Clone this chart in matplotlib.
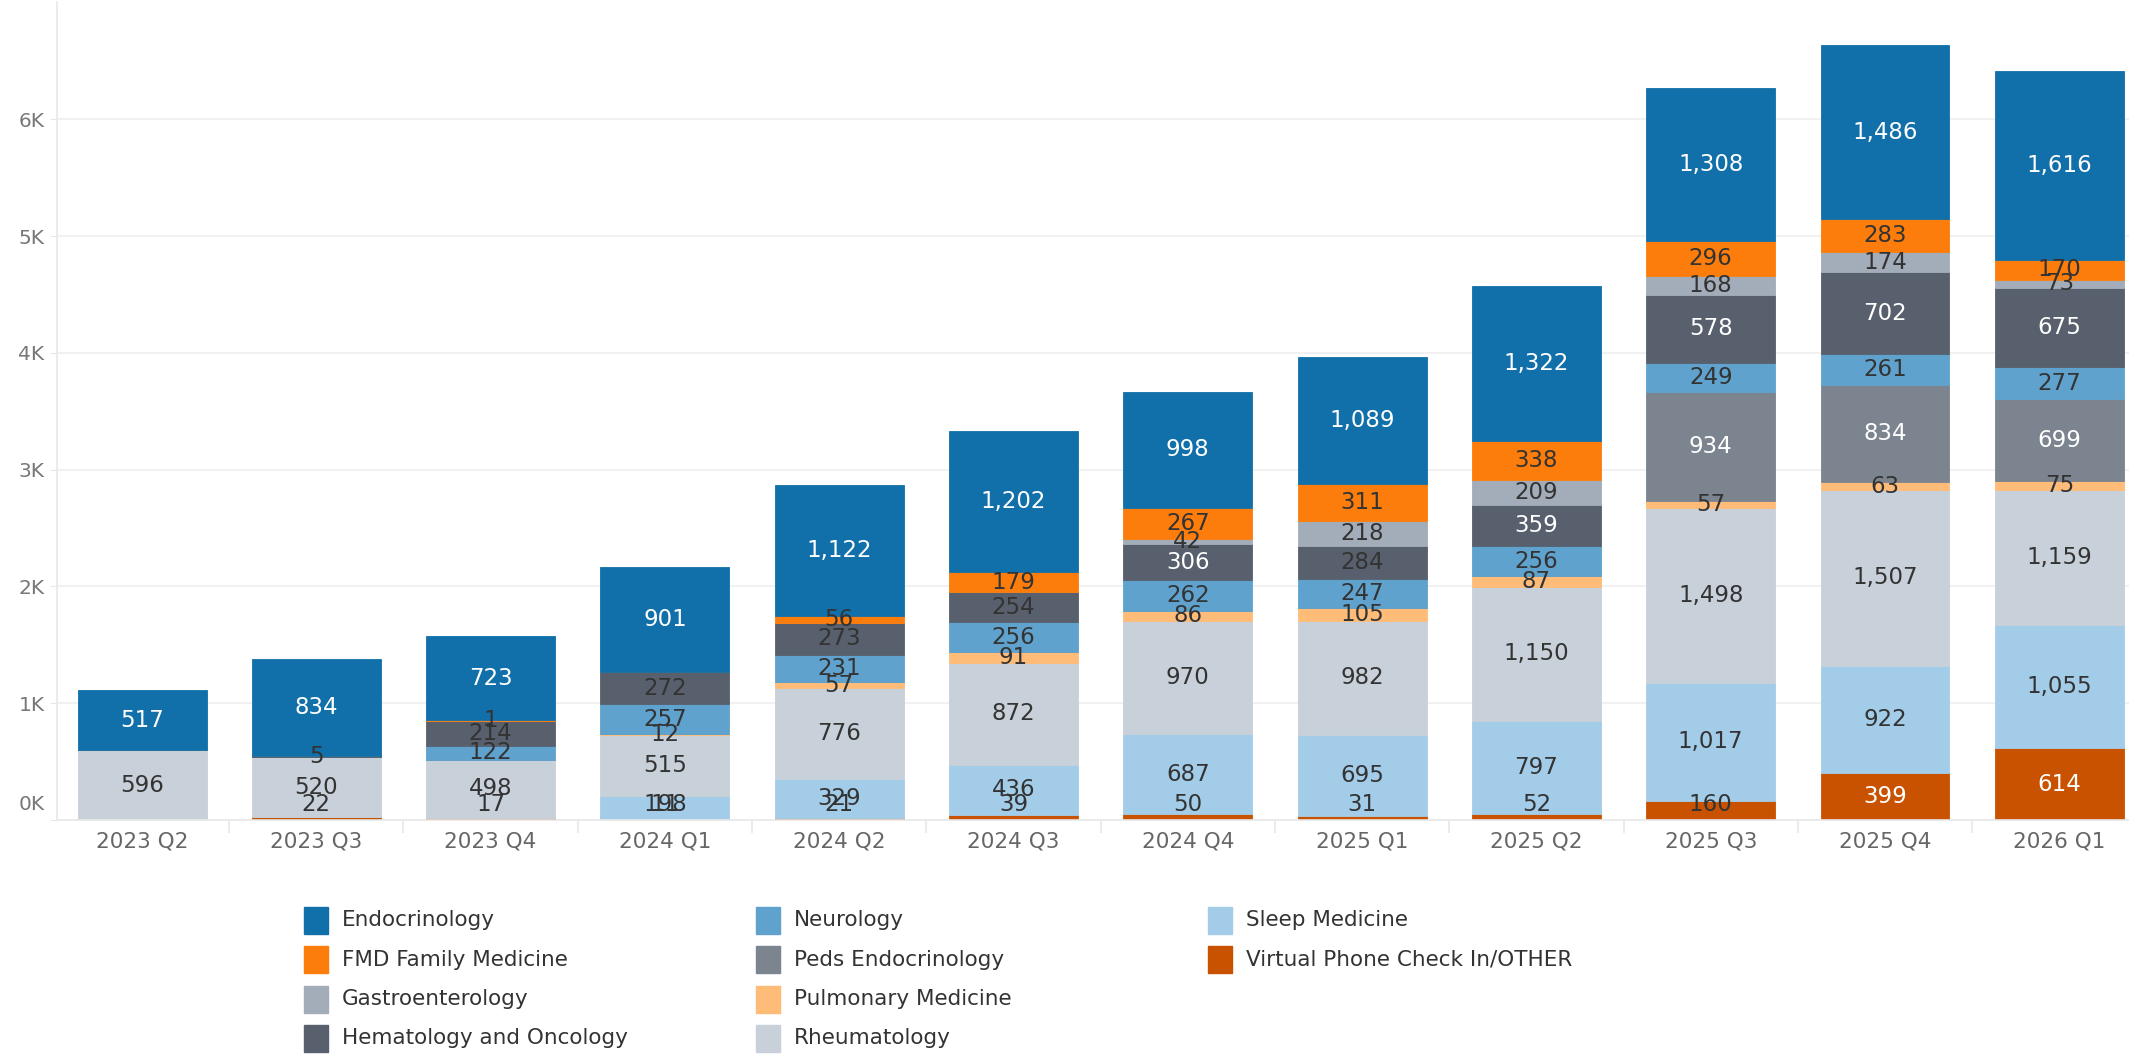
import matplotlib.pyplot as plt
from matplotlib.patches import Rectangle
from matplotlib.transforms import ScaledTranslation
import numpy as np

quarters = ['2023 Q2', '2023 Q3', '2023 Q4', '2024 Q1', '2024 Q2', '2024 Q3',
            '2024 Q4', '2025 Q1', '2025 Q2', '2025 Q3', '2025 Q4', '2026 Q1']

# values per department, stacked bottom -> top in this order
virtual = [0, 22, 17, 11, 21, 39, 50, 31, 52, 160, 399, 614]
sleep = [0, 0, 0, 198, 329, 436, 687, 695, 797, 1017, 922, 1055]
rheum = [596, 520, 498, 515, 776, 872, 970, 982, 1150, 1498, 1507, 1159]
pulm = [0, 0, 0, 12, 57, 91, 86, 105, 87, 57, 63, 75]
peds = [0, 0, 0, 0, 0, 0, 0, 0, 0, 934, 834, 699]
neuro = [0, 0, 122, 257, 231, 256, 262, 247, 256, 249, 261, 277]
hemonc = [0, 5, 214, 272, 273, 254, 306, 284, 359, 578, 702, 675]
gastro = [0, 0, 0, 0, 0, 0, 42, 218, 209, 168, 174, 73]
fmd = [0, 0, 1, 0, 56, 179, 267, 311, 338, 296, 283, 170]
endo = [517, 834, 723, 901, 1122, 1202, 998, 1089, 1322, 1308, 1486, 1616]

series = [
    ('Virtual Phone Check In/OTHER', virtual, '#c85200'),
    ('Sleep Medicine', sleep, '#a3cce9'),
    ('Rheumatology', rheum, '#c8d0d9'),
    ('Pulmonary Medicine', pulm, '#ffbc79'),
    ('Peds Endocrinology', peds, '#7b848f'),
    ('Neurology', neuro, '#5fa2ce'),
    ('Hematology and Oncology', hemonc, '#57606c'),
    ('Gastroenterology', gastro, '#a3acb9'),
    ('FMD Family Medicine', fmd, '#fc7d0b'),
    ('Endocrinology', endo, '#1170aa'),
]
dark = {'Virtual Phone Check In/OTHER', 'Peds Endocrinology',
        'Hematology and Oncology', 'Endocrinology'}

legend_cols = [
    ['Endocrinology', 'FMD Family Medicine', 'Gastroenterology', 'Hematology and Oncology'],
    ['Neurology', 'Peds Endocrinology', 'Pulmonary Medicine', 'Rheumatology'],
    ['Sleep Medicine', 'Virtual Phone Check In/OTHER'],
]

W, H = 2129, 1055
fig = plt.figure(figsize=(W / 100, H / 100), dpi=100)
ax = fig.add_axes([57 / W, (H - 820) / H, (W - 57) / W, 817.6 / H])

x = np.arange(len(quarters))
bottom = np.zeros(len(quarters))
colors = {}
for name, vals, col in series:
    vals = np.array(vals, dtype=float)
    colors[name] = col
    ax.bar(x, vals, 0.74, bottom=bottom, color=col, edgecolor=col, linewidth=0.6, zorder=2)
    for i, v in enumerate(vals):
        if v <= 0:
            continue
        yc = max(bottom[i] + v / 2, 130)
        tc = 'white' if (name in dark and v >= 300) else '#333333'
        ax.text(x[i], yc, f'{int(v):,}', ha='center', va='center',
                fontsize=16.5, color=tc, zorder=3)
    bottom += vals

ax.set_xlim(-0.488, 11.40)
ax.set_ylim(0, 7000)
ax.set_yticks(range(0, 7000, 1000))
ax.set_yticklabels([f'{k}K' for k in range(7)])
ax.set_xticks(x)
ax.set_xticklabels(quarters)
ax.set_xticks(x[:-1] + 0.5, minor=True)

ax.yaxis.grid(True, color='#efefef', linewidth=1.2, zorder=0)
ax.tick_params(axis='y', length=5, color='#e8e8e8', pad=4, labelsize=14.5, labelcolor='#777777')
ax.tick_params(axis='x', which='major', length=0, pad=8, labelsize=15.5, labelcolor='#666666')
ax.tick_params(axis='x', which='minor', length=9, color='#e8e8e8', width=1.2)

for s in ['top', 'right']:
    ax.spines[s].set_visible(False)
ax.spines['left'].set_color('#e8e8e8')
ax.spines['bottom'].set_color('#e8e8e8')
ax.spines['left'].set_linewidth(1.2)
ax.spines['bottom'].set_linewidth(1.2)

# 0K label sits a bit above the baseline
lab0 = ax.get_yticklabels()[0]
lab0.set_transform(lab0.get_transform() + ScaledTranslation(0, 0.18, fig.dpi_scale_trans))

# legend, drawn by hand in pixel positions
col_x = [304, 756, 1208]
row_y = [920, 959.5, 999, 1038.5]
for ci, names in enumerate(legend_cols):
    for ri, name in enumerate(names):
        fig.add_artist(Rectangle(((col_x[ci]) / W, (H - row_y[ri] - 13.5) / H), 24 / W, 27 / H,
                                 transform=fig.transFigure, color=colors[name]))
        fig.text((col_x[ci] + 38) / W, (H - row_y[ri]) / H, name, fontsize=15.5,
                 color='#333333', va='center', ha='left')

fig.savefig('out.png', dpi=100)
